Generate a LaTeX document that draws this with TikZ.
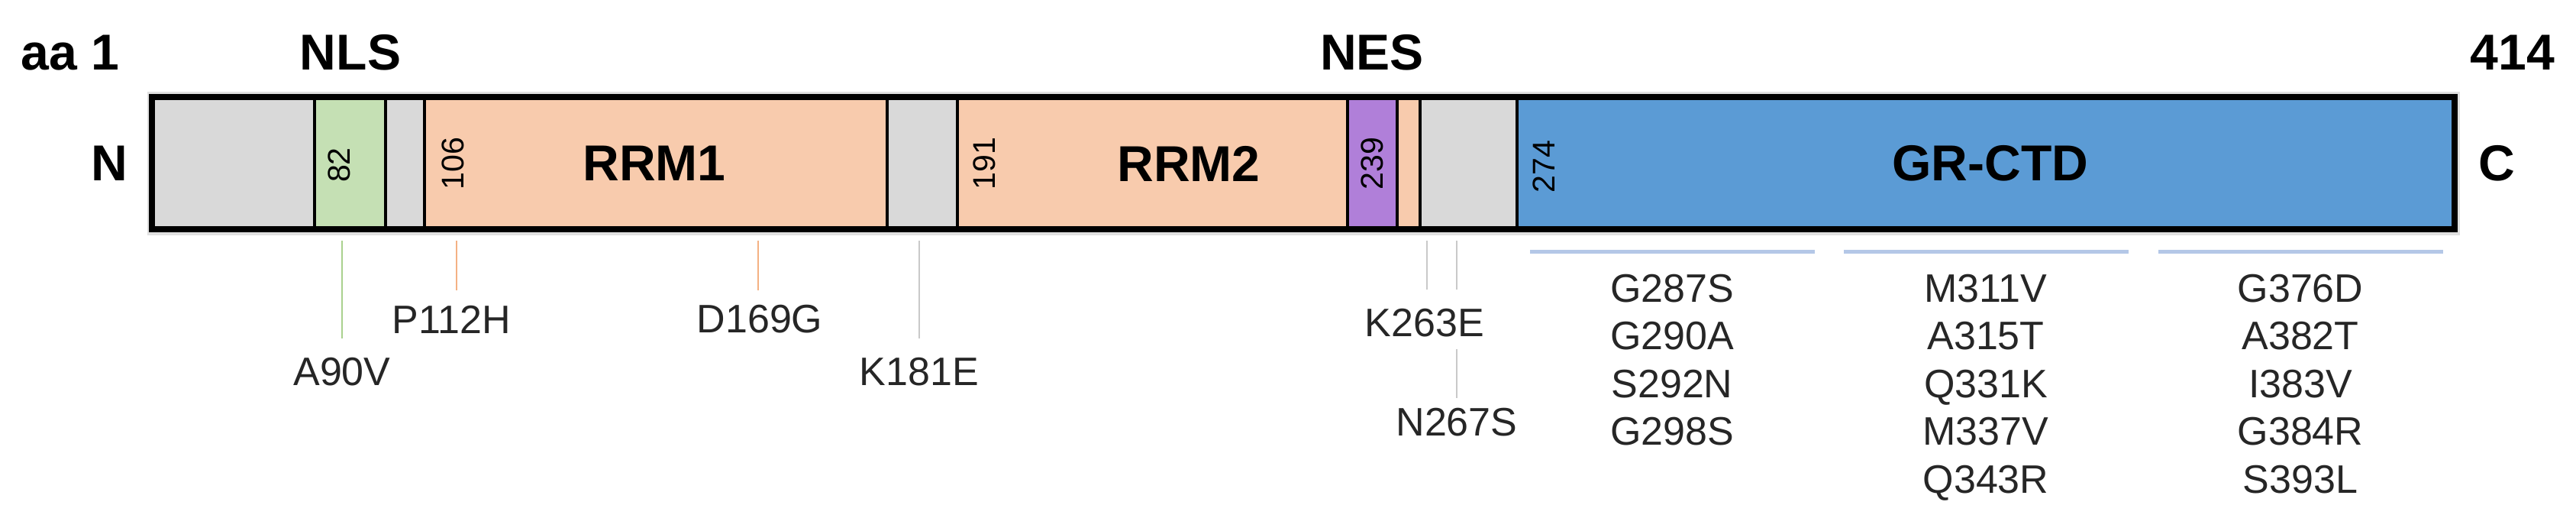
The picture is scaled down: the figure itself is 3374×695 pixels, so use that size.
\documentclass[tikz,border=0pt]{standalone}
\usepackage{fontspec}
\setmainfont{Liberation Sans}
\usetikzlibrary{calc}
\definecolor{dom gray}{HTML}{D9D9D9}
\definecolor{nls green}{HTML}{C5E0B4}
\definecolor{rrm peach}{HTML}{F8CBAD}
\definecolor{nes purple}{HTML}{B07FD9}
\definecolor{ctd blue}{HTML}{5B9BD5}
\definecolor{group blue}{HTML}{B4C7E7}
\definecolor{tick green}{HTML}{A9D18E}
\definecolor{tick peach}{HTML}{F4B183}
\definecolor{tick gray}{HTML}{C9C9C9}
\tikzset{
  divider/.style={line width=0.35mm},
  outline/.style={line width=0.8mm},
  big/.style={font=\bfseries\fontsize{18.8}{22}\selectfont, inner sep=0pt},
  resnum/.style={font=\fontsize{11.7}{14}\selectfont, rotate=90, inner sep=0pt},
  mut/.style={font=\fontsize{14.8}{17.8}\selectfont, text=black!85, inner sep=0pt, align=center},
  tick/.style={line width=0.15mm},
  grp/.style={draw=group blue, line width=0.5mm}
}
\begin{document}
\begin{tikzpicture}[x=0.1mm, y=-0.1mm]
  \useasboundingbox (0,0) rectangle (3374,695);
  \fill[black!12] (193,120) rectangle (3222,308);
  \foreach \a/\b/\c in {199/412/dom gray, 412/505/nls green, 505/556/dom gray,
      556/1162/rrm peach, 1162/1254/dom gray, 1254/1765/rrm peach,
      1765/1830/nes purple, 1830/1860/rrm peach, 1860/1987/dom gray, 1987/3215/ctd blue}
    \fill[\c] (\a,127) rectangle (\b,300);
  \foreach \x in {412,505,556,1162,1254,1765,1830,1860,1987}
    \draw[divider] (\x,127) -- (\x,300);
  \draw[outline] (199,127) rectangle (3215,300);

  \node[big] (aa1) at (92,69) {aa 1};
  \node[big] (nls) at (459,69) {NLS};
  \node[big] (nes) at (1797,69) {NES};
  \node[big] (aa414) at (3291,69) {414};
  \node[big] (nterm) at (143,214) {N};
  \node[big] (cterm) at (3270,214) {C};
  \node[big] (rrm1) at (857,214) {RRM1};
  \node[big] (rrm2) at (1557,214) {RRM2};
  \node[big] (ctd) at (2607,214) {GR-CTD};
  \node[resnum] (r82) at (444,216) {82};
  \node[resnum] (r106) at (593,214) {106};
  \node[resnum] (r191) at (1289,214) {191};
  \node[resnum] (r239) at (1797,214) {239};
  \node[resnum] (r274) at (2022,218) {274};

  \node[mut] (a90v) at (448,487) {A90V};
  \node[mut] (p112h) at (591,418) {P112H};
  \node[mut] (d169g) at (995,418) {D169G};
  \node[mut] (k181e) at (1204,487) {K181E};
  \node[mut] (k263e) at (1866,423) {K263E};
  \node[mut] (n267s) at (1908,553) {N267S};
  \coordinate (t90) at (448,315);
  \coordinate (t112) at (598,315);
  \coordinate (t169) at (993,315);
  \coordinate (t181) at (1204,315);
  \coordinate (t263) at (1869,315);
  \coordinate (t267) at (1908,315);
  \draw[tick, draw=tick green, shorten >=2.5mm] (t90) -- (t90 |- a90v.north);
  \draw[tick, draw=tick peach, shorten >=1.9mm] (t112) -- (t112 |- p112h.north);
  \draw[tick, draw=tick peach, shorten >=1.9mm] (t169) -- (t169 |- d169g.north);
  \draw[tick, draw=tick gray, shorten >=2.5mm] (t181) -- (t181 |- k181e.north);
  \draw[tick, draw=tick gray, shorten >=2.5mm] (t263) -- (t263 |- k263e.north);
  \draw[tick, draw=tick gray, shorten >=2.5mm] (t267) -- (t267 |- k263e.north);
  \draw[tick, draw=tick gray, shorten <=1.5mm, shorten >=1.3mm] (t267 |- k263e.south) -- (n267s.north);

  \node[mut, anchor=north] (col1) at (2190,358) {G287S\\G290A\\S292N\\G298S};
  \node[mut, anchor=north] (col2) at (2601,358) {M311V\\A315T\\Q331K\\M337V\\Q343R};
  \node[mut, anchor=north] (col3) at (3013,358) {G376D\\A382T\\I383V\\G384R\\S393L};
  \draw[grp] (2004,329) -- (2377,329);
  \draw[grp] (2415,329) -- (2788,329);
  \draw[grp] (2827,329) -- (3200,329);
\end{tikzpicture}
\end{document}
